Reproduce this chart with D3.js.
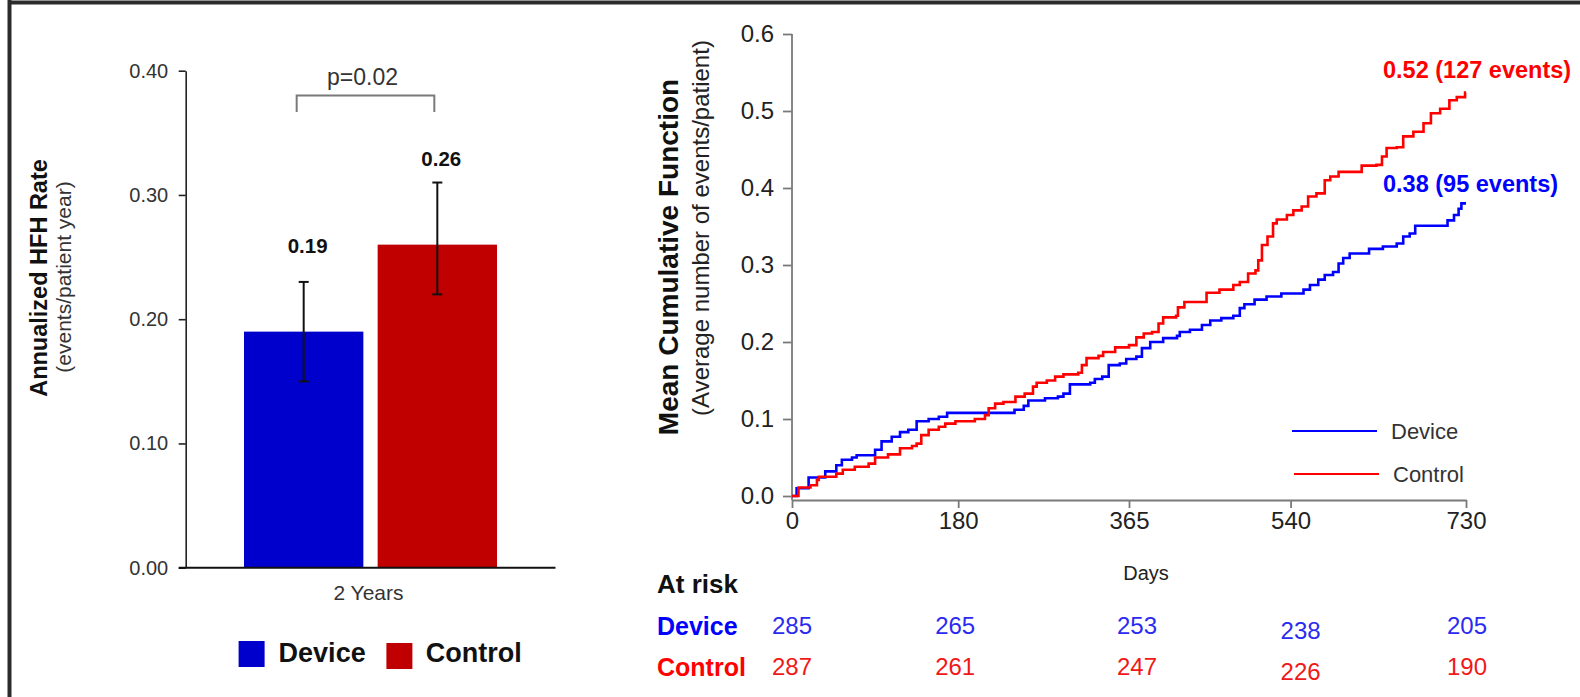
<!DOCTYPE html>
<html>
<head>
<meta charset="utf-8">
<script src="https://cdn.jsdelivr.net/npm/d3@7"></script>
<style>
  body { margin: 0; background: #fff; }
  svg { display: block; }
  text { font-family: "Liberation Sans", Arial, Helvetica, sans-serif; }
</style>
</head>
<body>
<svg id="chart" width="1580" height="697"></svg>
<script>
// ---- Annualized heart-failure hospitalisation rate (bar panel) ----
const groups = ["Device", "Control"];
const rates = [0.19, 0.26];
const ciLow = [0.15, 0.22];
const ciHigh = [0.23, 0.31];
const rateTicks = [0, 0.1, 0.2, 0.3, 0.4];
const periodLabel = "2 Years";
const pValueLabel = "p=0.02";

// ---- Mean cumulative function (step panel): [day, MCF level from that day] ----
const deviceMCF = [
  [0,0],[5,0.010],[18,0.024],[36,0.032],[48,0.040],[54,0.047],[65,0.050],[70,0.053],
  [90,0.060],[97,0.071],[108,0.077],[117,0.083],[126,0.086],[135,0.097],[148,0.100],
  [159,0.103],[168,0.108],[241,0.112],[251,0.117],[256,0.124],[274,0.127],[288,0.129],
  [294,0.133],[301,0.145],[323,0.147],[328,0.152],[336,0.155],[343,0.170],[355,0.172],
  [362,0.178],[373,0.181],[379,0.192],[388,0.200],[402,0.205],[417,0.208],[420,0.213],
  [431,0.216],[444,0.222],[453,0.228],[465,0.231],[478,0.234],[485,0.244],[490,0.249],
  [501,0.255],[514,0.259],[530,0.263],[554,0.268],[561,0.274],[570,0.281],[577,0.287],
  [586,0.291],[592,0.302],[597,0.309],[604,0.315],[625,0.321],[640,0.324],[655,0.328],
  [662,0.337],[669,0.341],[675,0.351],[710,0.358],[717,0.365],[722,0.373],[725,0.380],
  [730,0.380]
];
const controlMCF = [
  [0,0],[7,0.011],[20,0.014],[27,0.021],[29,0.025],[48,0.029],[55,0.034],[68,0.038],
  [83,0.042],[90,0.050],[104,0.054],[117,0.062],[130,0.065],[135,0.068],[140,0.079],
  [148,0.086],[159,0.090],[166,0.094],[177,0.097],[198,0.100],[209,0.105],[213,0.114],
  [220,0.120],[229,0.122],[242,0.129],[252,0.133],[261,0.142],[265,0.147],[276,0.150],
  [285,0.155],[294,0.158],[310,0.160],[314,0.170],[319,0.179],[332,0.182],[337,0.187],
  [350,0.193],[365,0.196],[373,0.206],[381,0.211],[390,0.213],[397,0.224],[402,0.232],
  [416,0.234],[418,0.245],[425,0.252],[449,0.264],[463,0.268],[478,0.274],[485,0.278],
  [494,0.289],[502,0.293],[505,0.306],[509,0.326],[515,0.337],[521,0.354],[525,0.359],
  [536,0.365],[543,0.371],[552,0.376],[559,0.389],[568,0.393],[577,0.410],[583,0.415],
  [592,0.421],[617,0.429],[633,0.430],[639,0.441],[644,0.452],[655,0.453],[662,0.467],
  [673,0.473],[684,0.484],[692,0.497],[702,0.503],[712,0.514],[720,0.518],[729,0.524],
  [730,0.524]
];
const totalEvents = [95, 127];
const dayTicks = [0, 180, 365, 540, 730];
const mcfTicks = [0, 0.1, 0.2, 0.3, 0.4, 0.5, 0.6];
const atRiskDevice = [285, 265, 253, 238, 205];
const atRiskControl = [287, 261, 247, 226, 190];

const barColors = ["#0000cc", "#c00000"];
const lineColors = ["#0000ff", "#ff0000"];

const svg = d3.select("#chart");

// outer frame (top and left edges)
svg.append("line").attr("x1", 8).attr("x2", 1580).attr("y1", 2.5).attr("y2", 2.5)
  .attr("stroke", "#2b2b2b").attr("stroke-width", 4);
svg.append("line").attr("x1", 9.5).attr("x2", 9.5).attr("y1", 0).attr("y2", 697)
  .attr("stroke", "#2b2b2b").attr("stroke-width", 4);

// ================= Bar panel =================
const axisXL = 185.7;
const yL = d3.scaleLinear().domain([0, 0.4]).range([567.7, 70.7]);
const xB = d3.scaleBand().domain(groups).range([244, 497]).paddingInner(0.107).paddingOuter(0);
const bw = xB.bandwidth();
const cxB = g => xB(g) + bw / 2;

const leftAxis = svg.append("g").attr("transform", `translate(${axisXL},0)`)
  .call(d3.axisLeft(yL).tickValues(rateTicks).tickFormat(d3.format(".2f"))
    .tickSize(7).tickSizeOuter(0).tickPadding(10.5));
leftAxis.select(".domain").attr("stroke", "#222").attr("stroke-width", 1.6);
leftAxis.selectAll(".tick line").attr("stroke", "#222").attr("stroke-width", 1.6);
leftAxis.selectAll(".tick text").attr("font-size", 20).attr("fill", "#333")
  .attr("font-family", "'Liberation Sans', Arial, sans-serif");

// bars
svg.append("g").selectAll("rect").data(groups).join("rect")
  .attr("x", d => xB(d)).attr("width", bw)
  .attr("y", (d, i) => yL(rates[i]))
  .attr("height", (d, i) => yL(0) - yL(rates[i]))
  .attr("fill", (d, i) => barColors[i]);

// baseline
svg.append("line").attr("x1", axisXL - 7).attr("x2", 555.5).attr("y1", yL(0)).attr("y2", yL(0))
  .attr("stroke", "#111").attr("stroke-width", 2);

// error bars
const eb = svg.append("g").attr("stroke", "#111").attr("stroke-width", 2);
groups.forEach((g, i) => {
  const cx = cxB(g);
  eb.append("line").attr("x1", cx).attr("x2", cx).attr("y1", yL(ciHigh[i])).attr("y2", yL(ciLow[i]));
  eb.append("line").attr("x1", cx - 5).attr("x2", cx + 5).attr("y1", yL(ciHigh[i])).attr("y2", yL(ciHigh[i]));
  eb.append("line").attr("x1", cx - 5).attr("x2", cx + 5).attr("y1", yL(ciLow[i])).attr("y2", yL(ciLow[i]));
});

// value labels
svg.append("g").selectAll("text").data(groups).join("text")
  .attr("x", d => cxB(d) + 4)
  .attr("y", (d, i) => yL(rates[i]) - 79)
  .attr("text-anchor", "middle").attr("font-size", 20.5).attr("font-weight", "bold").attr("fill", "#111")
  .text((d, i) => rates[i].toFixed(2));

// significance bracket
const bx1 = cxB(groups[0]) - 7, bx2 = cxB(groups[1]) - 3;
svg.append("path")
  .attr("d", `M${bx1},112 V95.5 H${bx2} V112`)
  .attr("fill", "none").attr("stroke", "#7a7a7a").attr("stroke-width", 2);
svg.append("text").attr("x", (bx1 + bx2) / 2 - 3).attr("y", 85)
  .attr("text-anchor", "middle").attr("font-size", 23).attr("fill", "#333").text(pValueLabel);

// category label
svg.append("text").attr("x", (xB.range()[0] + xB.range()[1]) / 2 - 2).attr("y", 600)
  .attr("text-anchor", "middle").attr("font-size", 21).attr("fill", "#333").text(periodLabel);

// y title
svg.append("text").attr("transform", "translate(47,278) rotate(-90)")
  .attr("text-anchor", "middle").attr("font-size", 23.5).attr("font-weight", "bold").attr("fill", "#111")
  .text("Annualized HFH Rate");
svg.append("text").attr("transform", "translate(71,277) rotate(-90)")
  .attr("text-anchor", "middle").attr("font-size", 21).attr("fill", "#333")
  .text("(events/patient year)");

// legend
const legX = [238.6, 386.4], legTextX = [278.6, 425.7];
groups.forEach((g, i) => {
  svg.append("rect").attr("x", legX[i]).attr("y", 641 + i * 2).attr("width", 26).attr("height", 26)
    .attr("fill", barColors[i]);
  svg.append("text").attr("x", legTextX[i]).attr("y", 662)
    .attr("font-size", 27).attr("font-weight", "bold").attr("fill", "#111").text(g);
});

// ================= MCF panel =================
const x = d3.scaleLinear().domain([0, 730]).range([792, 1466]);
const y = d3.scaleLinear().domain([0, 0.6]).range([496, 34]);
const axisColor = "#7a7a7a";

const yAxis = svg.append("g").attr("transform", "translate(792,0)")
  .call(d3.axisLeft(y).tickValues(mcfTicks).tickFormat(d3.format(".1f"))
    .tickSize(9).tickSizeOuter(0).tickPadding(9));
yAxis.select(".domain").attr("d", `M0,${y(0.6)}V500`);
const xAxis = svg.append("g").attr("transform", "translate(0,500)")
  .call(d3.axisBottom(x).tickValues(dayTicks).tickFormat(d3.format("d"))
    .tickSize(8).tickSizeOuter(0).tickPadding(4));
[yAxis, xAxis].forEach(a => {
  a.select(".domain").attr("stroke", axisColor).attr("stroke-width", 1.8);
  a.selectAll(".tick line").attr("stroke", axisColor).attr("stroke-width", 1.8);
  a.selectAll(".tick text").attr("font-size", 24).attr("fill", "#222")
    .attr("font-family", "'Liberation Sans', Arial, sans-serif");
});

// step curves
const line = d3.line().x(d => x(d[0])).y(d => y(d[1])).curve(d3.curveStepAfter);
[deviceMCF, controlMCF].forEach((s, i) => {
  svg.append("path").datum(s).attr("d", line)
    .attr("fill", "none").attr("stroke", lineColors[i]).attr("stroke-width", 2.6)
    .attr("stroke-linejoin", "miter");
});

// end-of-follow-up annotations
const annOffset = [-11, -15];
[deviceMCF, controlMCF].forEach((s, i) => {
  const last = s[s.length - 1];
  svg.append("text").attr("x", x(last[0]) - 83).attr("y", y(last[1]) + annOffset[i])
    .attr("font-size", 23.5).attr("font-weight", "bold").attr("fill", lineColors[i])
    .text(`${last[1].toFixed(2)} (${totalEvents[i]} events)`);
});

// line legend
const legY = [431, 474];
groups.forEach((g, i) => {
  svg.append("line").attr("x1", 1292 + i * 2).attr("x2", 1377 + i * 2).attr("y1", legY[i]).attr("y2", legY[i])
    .attr("stroke", lineColors[i]).attr("stroke-width", 2.2);
  svg.append("text").attr("x", 1391 + i * 2).attr("y", legY[i]).attr("dy", "0.35em")
    .attr("font-size", 22).attr("fill", "#333").text(g);
});

// axis titles
svg.append("text").attr("x", 1146).attr("y", 580).attr("text-anchor", "middle")
  .attr("font-size", 20).attr("fill", "#222").text("Days");
svg.append("text").attr("transform", "translate(678,257) rotate(-90)")
  .attr("text-anchor", "middle").attr("font-size", 28).attr("font-weight", "bold").attr("fill", "#111")
  .text("Mean Cumulative Function");
svg.append("text").attr("transform", "translate(709,228) rotate(-90)")
  .attr("text-anchor", "middle").attr("font-size", 24).attr("fill", "#222")
  .text("(Average number of events/patient)");

// at-risk table
svg.append("text").attr("x", 657).attr("y", 593).attr("font-size", 26).attr("font-weight", "bold")
  .attr("fill", "#111").text("At risk");
const rowY = [635, 676];
const colNudgeX = [0, -3, 8, 10, 1];
const colNudgeY = [0, 0, 0, 5, 0];
[atRiskDevice, atRiskControl].forEach((row, r) => {
  svg.append("text").attr("x", 657).attr("y", rowY[r]).attr("font-size", 25).attr("font-weight", "bold")
    .attr("fill", lineColors[r]).text(groups[r]);
  svg.append("g").selectAll("text").data(row).join("text")
    .attr("x", (d, j) => x(dayTicks[j]) + colNudgeX[j])
    .attr("y", (d, j) => rowY[r] - 1 + colNudgeY[j])
    .attr("text-anchor", "middle").attr("font-size", 24)
    .attr("fill", r === 0 ? "#2a2af0" : "#f01818").text(d => d);
});
</script>
</body>
</html>
